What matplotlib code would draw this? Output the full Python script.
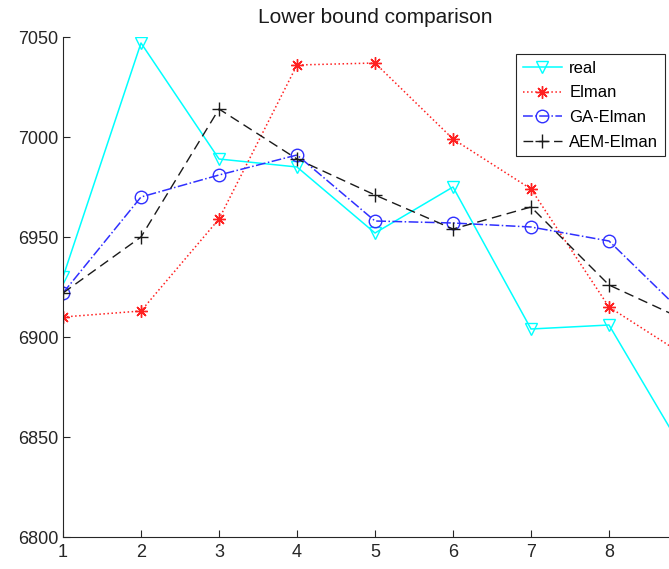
import matplotlib
matplotlib.use("Agg")
from matplotlib import pyplot as plt

plt.rcParams['font.family'] = ['Liberation Sans', 'DejaVu Sans']

x = [1, 2, 3, 4, 5, 6, 7, 8, 9]
real = [6930, 7047, 6989, 6985, 6952, 6975, 6904, 6906, 6840]
elman = [6910, 6913, 6959, 7036, 7037, 6999, 6974, 6915, 6890]
ga_elman = [6922, 6970, 6981, 6991, 6958, 6957, 6955, 6948, 6910]
aem_elman = [6922, 6950, 7014, 6989, 6971, 6954, 6965, 6926, 6908]
xticks = [1, 2, 3, 4, 5, 6, 7, 8]
yticks = [6800, 6850, 6900, 6950, 7000, 7050]

fig = plt.figure(figsize=(6.69, 5.69), dpi=100)
ax = fig.add_axes([63 / 669, 32 / 569, 624 / 669, 500 / 569])

ax.plot(x, real, color='#00ffff', linestyle='-', linewidth=1.1, marker='v',
        markersize=9, markerfacecolor='none', markeredgewidth=1.0, label='real')
ax.plot(x, elman, color='#ff2020', linestyle=':', linewidth=1.1, marker=(8, 2, 0),
        markersize=9, markeredgewidth=1.0, label='Elman')
ax.plot(x, ga_elman, color='#3030ff', linestyle='-.', linewidth=1.1, marker='o',
        markersize=9, markerfacecolor='none', markeredgewidth=1.0, label='GA-Elman')
ax.plot(x, aem_elman, color='#1a1a1a', linestyle='--', linewidth=1.0, marker='+',
        markersize=10, markeredgewidth=1.0, dashes=(7, 4), label='AEM-Elman')

ax.set_xlim(1, 9)
ax.set_ylim(6800, 7050)
ax.set_xticks(xticks)
ax.set_yticks(yticks)
ax.tick_params(direction='in', length=5, width=0.8, labelsize=13, colors='#262626')
ax.tick_params(axis='x', pad=5)
for s in ['top', 'right']:
    ax.spines[s].set_visible(False)
for s in ['left', 'bottom']:
    ax.spines[s].set_color('#262626')
    ax.spines[s].set_linewidth(0.8)

ax.set_title('Lower bound comparison', fontsize=15, color='#1a1a1a', pad=10)

leg = ax.legend(loc='upper right', bbox_to_anchor=(665 / 669, 1 - 54 / 569),
                bbox_transform=fig.transFigure, borderaxespad=0, fontsize=12,
                fancybox=False, edgecolor='#262626', framealpha=1,
                handlelength=2.35, handletextpad=0.45, labelspacing=0.58, borderpad=0.4)
leg.get_frame().set_linewidth(0.8)

fig.savefig('out.png', dpi=100)
